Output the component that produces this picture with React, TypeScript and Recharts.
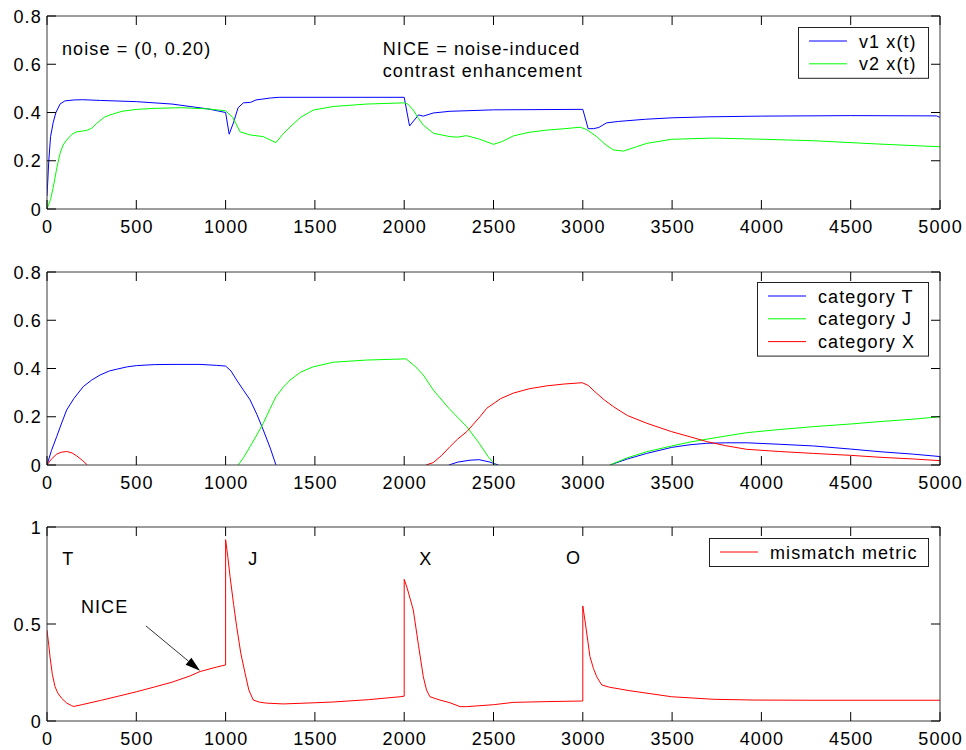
import React from 'react';
import { LineChart, Line, XAxis, YAxis, Legend, ReferenceDot, ReferenceLine } from 'recharts';

// ---------- data ----------
const timeTicks = [0, 500, 1000, 1500, 2000, 2500, 3000, 3500, 4000, 4500, 5000];
const stateTicks = [0, 0.2, 0.4, 0.6, 0.8];
const metricTicks = [0, 0.5, 1];

type Pair = [number, number | null];

const v1Trace: Pair[] = [
  [0, 0.054], [10, 0.2], [20, 0.3], [35, 0.36], [50, 0.4], [73, 0.435], [100, 0.448], [150, 0.452],
  [200, 0.453], [300, 0.45], [500, 0.445], [700, 0.435], [900, 0.415], [1000, 0.4], [1020, 0.31],
  [1045, 0.36], [1070, 0.42], [1100, 0.44], [1140, 0.442], [1170, 0.452], [1250, 0.46], [1300, 0.463],
  [2000, 0.463], [2030, 0.344], [2080, 0.39], [2107, 0.385], [2163, 0.398], [2256, 0.405], [2500, 0.411],
  [3000, 0.413], [3030, 0.333], [3060, 0.333], [3090, 0.338], [3133, 0.357], [3200, 0.363], [3350, 0.372],
  [3500, 0.378], [3700, 0.382], [4000, 0.385], [4500, 0.387], [4980, 0.386], [5000, 0.38],
];

const v2Trace: Pair[] = [
  [0, 0], [20, 0.04], [35, 0.09], [55, 0.17], [73, 0.23], [90, 0.265], [110, 0.286], [140, 0.31],
  [166, 0.32], [200, 0.323], [226, 0.327], [250, 0.335], [278, 0.355], [320, 0.38], [353, 0.39],
  [420, 0.405], [502, 0.413], [600, 0.417], [750, 0.42], [900, 0.415], [1000, 0.407], [1040, 0.38],
  [1081, 0.32], [1137, 0.307], [1211, 0.3], [1282, 0.275], [1320, 0.31], [1361, 0.34], [1420, 0.38],
  [1491, 0.41], [1603, 0.425], [1790, 0.435], [2000, 0.44], [2020, 0.435], [2051, 0.41], [2080, 0.375],
  [2107, 0.348], [2163, 0.314], [2256, 0.3], [2300, 0.298], [2349, 0.304], [2420, 0.29], [2500, 0.268],
  [2550, 0.28], [2611, 0.303], [2700, 0.318], [2798, 0.327], [2900, 0.333], [2985, 0.339], [3020, 0.33],
  [3078, 0.3], [3130, 0.265], [3171, 0.245], [3227, 0.24], [3300, 0.258], [3358, 0.272], [3498, 0.289],
  [3731, 0.294], [4010, 0.289], [4291, 0.283], [4664, 0.269], [5000, 0.258],
];

const catT: Pair[] = [
  [0, 0], [25, 0.06], [54, 0.117], [80, 0.17], [110, 0.228], [150, 0.275], [203, 0.325], [250, 0.352],
  [297, 0.373], [350, 0.39], [390, 0.397], [450, 0.407], [502, 0.412], [600, 0.416], [700, 0.417],
  [857, 0.417], [950, 0.413], [1000, 0.41], [1030, 0.39], [1062, 0.352], [1100, 0.31], [1137, 0.27],
  [1175, 0.21], [1211, 0.145], [1250, 0.07], [1282, 0], [1300, null],
  [2250, 0], [2300, 0.012], [2369, 0.02], [2420, 0.022], [2480, 0.012], [2527, 0], [2600, null],
  [3152, 0], [3250, 0.025], [3358, 0.048], [3498, 0.073], [3600, 0.084], [3694, 0.09], [3800, 0.092],
  [3918, 0.092], [4100, 0.086], [4291, 0.079], [4500, 0.066], [4664, 0.055], [4850, 0.045], [5000, 0.035],
];

const catJ: Pair[] = [
  [1071, 0], [1100, 0.03], [1137, 0.076], [1175, 0.125], [1211, 0.173], [1250, 0.235], [1282, 0.283],
  [1320, 0.32], [1361, 0.352], [1420, 0.385], [1491, 0.407], [1603, 0.426], [1790, 0.435], [2010, 0.44],
  [2060, 0.41], [2107, 0.373], [2163, 0.311], [2250, 0.235], [2350, 0.159], [2420, 0.09], [2471, 0.034],
  [2510, 0], [2600, null],
  [3152, 0], [3250, 0.03], [3358, 0.055], [3498, 0.079], [3600, 0.095], [3694, 0.107], [3800, 0.12],
  [3918, 0.134], [4100, 0.147], [4291, 0.159], [4500, 0.17], [4664, 0.18], [4850, 0.19], [5000, 0.2],
];

const catX: Pair[] = [
  [0, 0], [25, 0.025], [54, 0.045], [80, 0.053], [110, 0.056], [140, 0.05], [166, 0.038], [200, 0.018],
  [226, 0], [300, null],
  [2122, 0], [2163, 0.01], [2210, 0.04], [2256, 0.076], [2300, 0.108], [2350, 0.138], [2424, 0.2],
  [2462, 0.235], [2540, 0.275], [2611, 0.298], [2700, 0.316], [2798, 0.328], [2900, 0.336], [2997, 0.341],
  [3030, 0.33], [3078, 0.297], [3120, 0.27], [3171, 0.242], [3250, 0.205], [3358, 0.173], [3498, 0.138],
  [3600, 0.117], [3694, 0.097], [3800, 0.08], [3918, 0.065], [4100, 0.056], [4291, 0.048], [4500, 0.04],
  [4664, 0.032], [4850, 0.025], [5000, 0.018],
];

const mismatch: Pair[] = [
  [0, 0.469], [10, 0.39], [17, 0.33], [30, 0.24], [45, 0.177], [60, 0.145], [82, 0.117], [110, 0.093],
  [138, 0.079], [150, 0.075], [200, 0.085], [300, 0.106], [400, 0.128], [502, 0.151], [600, 0.175],
  [700, 0.2], [800, 0.232], [857, 0.255], [950, 0.278], [1000, 0.289], [1000, 0.935], [1012, 0.85],
  [1025, 0.744], [1045, 0.6], [1062, 0.486], [1085, 0.35], [1109, 0.246], [1130, 0.16], [1155, 0.108],
  [1190, 0.097], [1230, 0.092], [1323, 0.088], [1500, 0.094], [1603, 0.098], [1800, 0.11], [1977, 0.125],
  [2000, 0.128], [2000, 0.73], [2015, 0.69], [2051, 0.572], [2080, 0.39], [2107, 0.228], [2125, 0.16],
  [2144, 0.125], [2200, 0.108], [2256, 0.094], [2313, 0.074], [2350, 0.074], [2424, 0.079], [2500, 0.084],
  [2611, 0.096], [2800, 0.1], [2995, 0.103], [3000, 0.103], [3000, 0.593], [3015, 0.5], [3040, 0.332],
  [3060, 0.27], [3078, 0.228], [3106, 0.186], [3150, 0.174], [3264, 0.156], [3498, 0.125], [3731, 0.112],
  [3962, 0.108], [4290, 0.107], [5000, 0.107],
];

const topNotes: { t: number; v: number; text: string }[] = [
  { t: 84, v: 0.666, text: 'noise = (0, 0.20)' },
  { t: 1880, v: 0.666, text: 'NICE = noise-induced' },
  { t: 1880, v: 0.573, text: 'contrast enhancement' },
];

const bottomNotes: { t: number; v: number; text: string }[] = [
  { t: 86, v: 0.84, text: 'T' },
  { t: 1127, v: 0.84, text: 'J' },
  { t: 2084, v: 0.84, text: 'X' },
  { t: 2906, v: 0.845, text: 'O' },
  { t: 190, v: 0.588, text: 'NICE' },
];

const niceArrow = [{ x: 554, y: 0.49 }, { x: 857, y: 0.259 }];

// ---------- styling ----------
const FONT = '"Liberation Sans", Arial, Helvetica, sans-serif';
const FS = 18;
const LS = 1.1;
const TL = 9;
const FRAME = '#3a3a3a';
const BLUE = '#0000ff';
const GREEN = '#00ff00';
const RED = '#ff0000';

const rows = (a: Pair[]) => a.map(([t, v]) => ({ t, v }));

const fmt = (v: number) => String(v);

const BottomTick = (props: any) => {
  const { x, y, payload } = props;
  return (
    <g>
      <line x1={x} y1={y} x2={x} y2={y - TL} stroke="#000" strokeWidth={1} />
      <text x={x + LS / 2} y={y + 23.5} textAnchor="middle" fontFamily={FONT} fontSize={FS} letterSpacing={LS} fill="#000">
        {fmt(payload.value)}
      </text>
    </g>
  );
};
const TopTick = (props: any) => {
  const { x, y } = props;
  return <line x1={x} y1={y} x2={x} y2={y + TL} stroke="#000" strokeWidth={1} />;
};
const LeftTick = (props: any) => {
  const { x, y, payload } = props;
  return (
    <g>
      <line x1={x} y1={y} x2={x + TL} y2={y} stroke="#000" strokeWidth={1} />
      <text x={x - 6.3 + LS} y={y + 6.5} textAnchor="end" fontFamily={FONT} fontSize={FS} letterSpacing={LS} fill="#000">
        {fmt(payload.value)}
      </text>
    </g>
  );
};
const RightTick = (props: any) => {
  const { x, y } = props;
  return <line x1={x} y1={y} x2={x - TL} y2={y} stroke="#000" strokeWidth={1} />;
};

const noteShape = (text: string) => (props: any) => (
  <text x={props.cx} y={props.cy + 6.5} fontFamily={FONT} fontSize={FS} letterSpacing={LS} fill="#000">
    {text}
  </text>
);

const ArrowShape = (props: any) => {
  const { x1, y1, x2, y2 } = props;
  const dx = x2 - x1;
  const dy = y2 - y1;
  const len = Math.hypot(dx, dy) || 1;
  const ux = dx / len;
  const uy = dy / len;
  const hl = 15;
  const hw = 4.5;
  const bx = x2 - ux * hl;
  const by = y2 - uy * hl;
  const pts = `${x2},${y2} ${bx - uy * hw},${by + ux * hw} ${bx + uy * hw},${by - ux * hw}`;
  return (
    <g>
      <line x1={x1} y1={y1} x2={bx} y2={by} stroke="#333" strokeWidth={1} />
      <polygon points={pts} fill="#000" />
    </g>
  );
};

type Item = { label: string; color: string };
const LegendBox = ({ items, width }: { items: Item[]; width: number }) => {
  const h = 29 + (items.length - 1) * 22.8;
  return (
    <svg width={width} height={h} style={{ display: 'block' }}>
      <rect x={0.5} y={0.5} width={width - 1} height={h - 1} fill="#fff" stroke="#222" />
      {items.map((it, i) => {
        const cy = 14 + i * 22.8;
        return (
          <g key={it.label}>
            <line x1={11} x2={49} y1={cy} y2={cy} stroke={it.color} strokeWidth={1} />
            <text x={61} y={cy + 6.5} fontFamily={FONT} fontSize={FS} letterSpacing={LS} fill="#000">
              {it.label}
            </text>
          </g>
        );
      })}
    </svg>
  );
};

const legendTop: Item[] = [
  { label: 'v1 x(t)', color: BLUE },
  { label: 'v2 x(t)', color: GREEN },
];
const legendMid: Item[] = [
  { label: 'category T', color: BLUE },
  { label: 'category J', color: GREEN },
  { label: 'category X', color: RED },
];
const legendBot: Item[] = [{ label: 'mismatch metric', color: RED }];

const W = 966;
const H = 250;
const PLOT_RIGHT = 940;

const Frame = (yDomain: number[], yTicks: number[]) => [
  <XAxis key="xb" xAxisId="b" dataKey="t" type="number" domain={[0, 5000]} ticks={timeTicks} interval={0}
    height={25} tickSize={0} tickMargin={0} tickLine={false} axisLine={{ stroke: FRAME }} tick={BottomTick} allowDataOverflow />,
  <XAxis key="xt" xAxisId="t" orientation="top" dataKey="t" type="number" domain={[0, 5000]} ticks={timeTicks} interval={0}
    height={6} tickSize={0} tickMargin={0} tickLine={false} axisLine={{ stroke: FRAME }} tick={TopTick} allowDataOverflow />,
  <YAxis key="yl" yAxisId="l" type="number" domain={yDomain} ticks={yTicks} interval={0}
    width={40} tickSize={0} tickMargin={0} tickLine={false} axisLine={{ stroke: FRAME }} tick={LeftTick} allowDataOverflow />,
  <YAxis key="yr" yAxisId="r" orientation="right" type="number" domain={yDomain} ticks={yTicks} interval={0}
    width={10} tickSize={0} tickMargin={0} tickLine={false} axisLine={{ stroke: FRAME }} tick={RightTick} allowDataOverflow />,
];

const legendEl = (items: Item[], width: number, top: number) => (
  <Legend
    layout="vertical"
    align="center"
    verticalAlign="middle"
    wrapperStyle={{ left: PLOT_RIGHT - 11 - width, top, width, height: 29 + (items.length - 1) * 22.8 }}
    content={() => <LegendBox items={items} width={width} />}
  />
);

const series = (data: Pair[], color: string, name: string) => (
  <Line
    key={name}
    xAxisId="b"
    yAxisId="l"
    data={rows(data)}
    dataKey="v"
    name={name}
    type="linear"
    stroke={color}
    strokeWidth={1}
    dot={false}
    activeDot={false}
    isAnimationActive={false}
    connectNulls={false}
  />
);

export default function App() {
  return (
    <div style={{ position: 'absolute', left: 0, top: 0, width: W, height: 750, background: '#fff' }}>
      <div style={{ position: 'absolute', left: 0, top: 0 }}>
        <LineChart width={W} height={H} margin={{ top: 10, left: 7, right: 16, bottom: 16 }}>
          {Frame([0, 0.8], stateTicks)}
          {series(v1Trace, BLUE, 'v1 x(t)')}
          {series(v2Trace, GREEN, 'v2 x(t)')}
          {topNotes.map((n) => (
            <ReferenceDot key={n.text} xAxisId="b" yAxisId="l" x={n.t} y={n.v} r={0} shape={noteShape(n.text)} />
          ))}
          {legendEl(legendTop, 131, 27)}
        </LineChart>
      </div>
      <div style={{ position: 'absolute', left: 0, top: 250 }}>
        <LineChart width={W} height={H} margin={{ top: 16, left: 7, right: 16, bottom: 10 }}>
          {Frame([0, 0.8], stateTicks)}
          {series(catT, BLUE, 'category T')}
          {series(catJ, GREEN, 'category J')}
          {series(catX, RED, 'category X')}
          {legendEl(legendMid, 172, 32)}
        </LineChart>
      </div>
      <div style={{ position: 'absolute', left: 0, top: 500 }}>
        <LineChart width={W} height={H} margin={{ top: 21, left: 7, right: 16, bottom: 4 }}>
          {Frame([0, 1], metricTicks)}
          {series(mismatch, RED, 'mismatch metric')}
          {bottomNotes.map((n) => (
            <ReferenceDot key={n.text} xAxisId="b" yAxisId="l" x={n.t} y={n.v} r={0} shape={noteShape(n.text)} />
          ))}
          <ReferenceLine xAxisId="b" yAxisId="l" segment={niceArrow} shape={ArrowShape} />
          {legendEl(legendBot, 220, 38)}
        </LineChart>
      </div>
    </div>
  );
}
